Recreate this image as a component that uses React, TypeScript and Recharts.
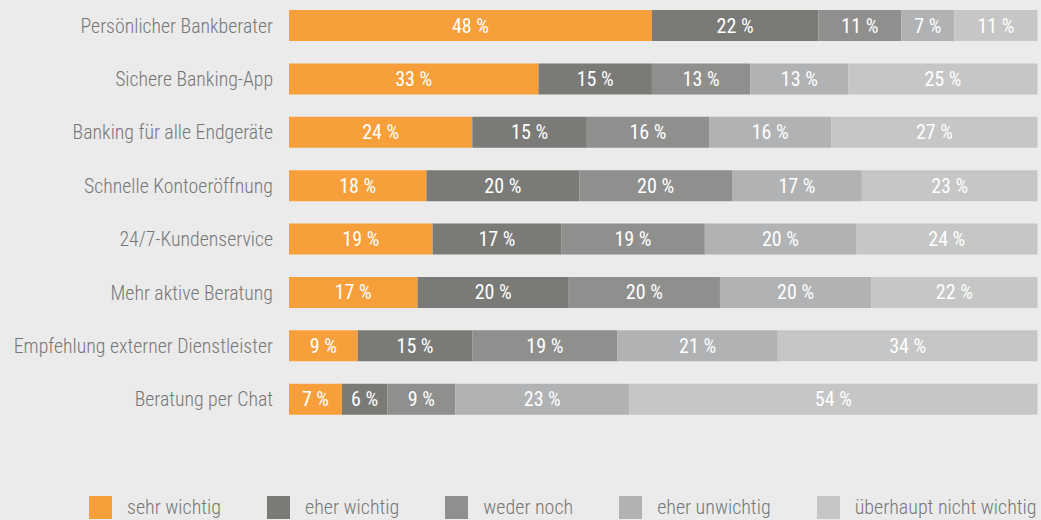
import React from 'react';
import { BarChart, Bar, XAxis, YAxis, Legend, LabelList } from 'recharts';

const categories = [
  'Persönlicher Bankberater',
  'Sichere Banking-App',
  'Banking für alle Endgeräte',
  'Schnelle Kontoeröffnung',
  '24/7-Kundenservice',
  'Mehr aktive Beratung',
  'Empfehlung externer Dienstleister',
  'Beratung per Chat',
];

const sehrWichtig = [48, 33, 24, 18, 19, 17, 9, 7];
const eherWichtig = [22, 15, 15, 20, 17, 20, 15, 6];
const wederNoch = [11, 13, 16, 20, 19, 20, 19, 9];
const eherUnwichtig = [7, 13, 16, 17, 20, 20, 21, 23];
const nichtWichtig = [11, 25, 27, 23, 24, 22, 34, 54];

const series = [
  { key: 'sehr', name: 'sehr wichtig', color: '#F7A03B', values: sehrWichtig },
  { key: 'eher', name: 'eher wichtig', color: '#7A7A77', values: eherWichtig },
  { key: 'weder', name: 'weder noch', color: '#8F908E', values: wederNoch },
  { key: 'unw', name: 'eher unwichtig', color: '#B1B2B3', values: eherUnwichtig },
  { key: 'nicht', name: 'überhaupt nicht wichtig', color: '#C5C6C5', values: nichtWichtig },
];

const data = categories.map((name, i) => {
  const row: Record<string, string | number> = { name };
  series.forEach((s) => {
    row[s.key] = s.values[i];
  });
  return row;
});

const FONT = "'Roboto Condensed', Roboto, sans-serif";

const LegendContent = () => (
  <div style={{ paddingTop: 69, height: 24, display: 'flex', paddingLeft: 89, fontFamily: FONT }}>
    {series.map((s) => (
      <div key={s.key} style={{ display: 'flex', alignItems: 'center', marginRight: 46, whiteSpace: 'nowrap' }}>
        <div style={{ width: 23, height: 23, background: s.color, marginRight: 15, flexShrink: 0 }} />
        <span style={{ fontSize: 20, fontWeight: 300, color: '#777', lineHeight: '23px' }}>{s.name}</span>
      </div>
    ))}
  </div>
);

export default function App() {
  return (
    <div style={{ position: 'absolute', left: 0, top: 0, width: 1041, height: 520, background: '#EBEBEB', fontFamily: FONT }}>
      <BarChart
        width={1041}
        height={520}
        data={data}
        layout="vertical"
        stackOffset="expand"
        barSize={31}
        margin={{ top: -1, right: 3.5, left: 0, bottom: 1 }}
      >
        <XAxis type="number" hide domain={[0, 1]} />
        <YAxis
          type="category"
          dataKey="name"
          width={289}
          tickLine={false}
          axisLine={false}
          tickMargin={10}
          interval={0}
          tick={{ fill: '#777', fontSize: 19.8, fontWeight: 300, fontFamily: FONT }}
        />
        <Legend verticalAlign="bottom" align="left" content={<LegendContent />} />
        {series.map((s) => (
          <Bar key={s.key} dataKey={s.key} stackId="a" fill={s.color} name={s.name} isAnimationActive={false}>
            <LabelList
              dataKey={s.key}
              position="center"
              fill="#ffffff"
              fontSize={20}
              fontFamily={FONT}
              formatter={(v: number) => `${v} %`}
            />
          </Bar>
        ))}
      </BarChart>
    </div>
  );
}
